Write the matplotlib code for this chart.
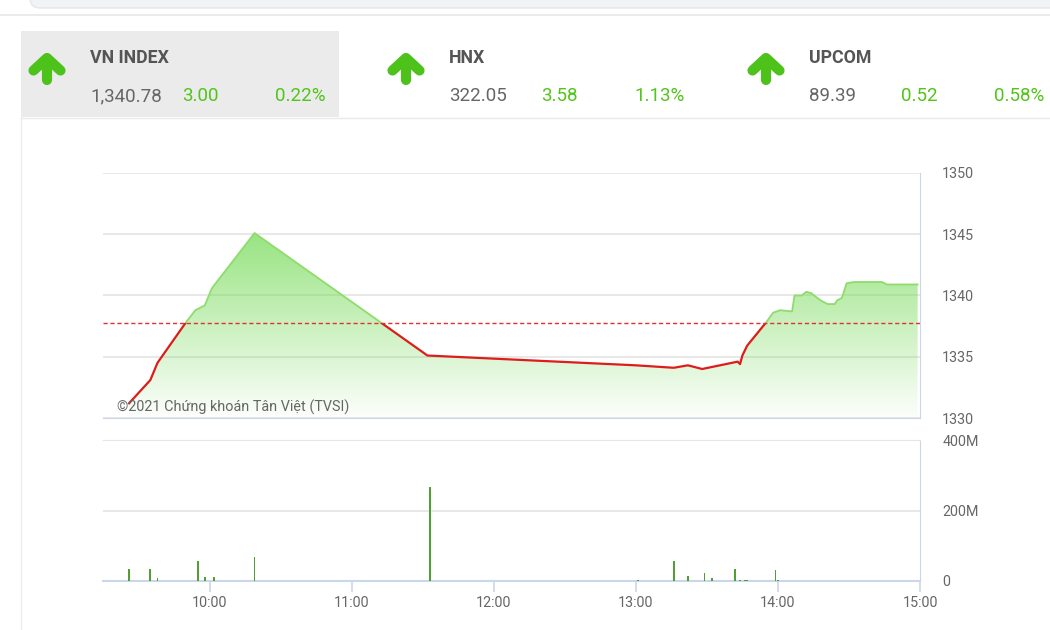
import matplotlib.pyplot as plt
import numpy as np
from matplotlib.patches import Rectangle, FancyBboxPatch, Polygon

plt.rcParams['font.family'] = ['Roboto', 'DejaVu Sans']

# header panels
index_names = ["VN INDEX", "HNX", "UPCOM"]
index_values = ["1,340.78", "322.05", "89.39"]
index_changes = ["3.00", "3.58", "0.52"]
index_pcts = ["0.22%", "1.13%", "0.58%"]

# intraday VN-Index
price_times = ["09:26", "09:35", "09:38", "09:50", "09:54", "09:58", "10:01", "10:19",
               "11:32", "13:00", "13:16", "13:22", "13:28", "13:43", "13:44", "13:45",
               "13:47", "13:55", "13:58", "14:01", "14:06", "14:07", "14:10", "14:12",
               "14:14", "14:18", "14:21", "14:24", "14:25", "14:27", "14:29", "14:32",
               "14:44", "14:46", "14:59"]
price_values = [1331.2, 1333.1, 1334.5, 1337.8, 1338.8, 1339.2, 1340.6, 1345.1,
                1335.1, 1334.3, 1334.1, 1334.3, 1334.0, 1334.6, 1334.4, 1335.1,
                1335.9, 1337.8, 1338.6, 1338.8, 1338.7, 1340.0, 1340.0, 1340.3,
                1340.2, 1339.6, 1339.3, 1339.3, 1339.6, 1339.8, 1341.0, 1341.1,
                1341.1, 1340.9, 1340.9]

# matched volume, millions
vol_times = ["09:26", "09:35", "09:38", "09:55", "09:58", "10:02", "10:19", "11:33",
             "13:01", "13:16", "13:22", "13:29", "13:32", "13:42", "13:44", "13:46",
             "13:47", "13:59", "14:00", "14:16", "14:46"]
vol_values = [33, 33, 8, 57, 12, 12, 68, 266, 2, 57, 15, 22, 8, 34, 3, 3, 4, 30, 2, 1, 1]

price_ticks = [1330, 1335, 1340, 1345, 1350]
vol_ticks = [0, 200, 400]
vol_labels = ["0", "200M", "400M"]
hour_ticks = [10, 11, 12, 13, 14, 15]
hour_labels = ["10:00", "11:00", "12:00", "13:00", "14:00", "15:00"]


def to_hours(s):
    h, m = s.split(":")
    return int(h) + int(m) / 60


GREEN_TXT = '#52c41a'
GREY_TXT = '#666666'
BORDER = '#ccd6eb'
GRID = '#e6e6e6'

fig = plt.figure(figsize=(10.5, 6.3), dpi=100)

# overlay in pixel coords for the page furniture
bg = fig.add_axes([0, 0, 1, 1], zorder=-1)
bg.set_xlim(0, 1050)
bg.set_ylim(630, 0)
bg.axis('off')
bg.add_patch(FancyBboxPatch((30, -30), 1040, 38, boxstyle="round,pad=0,rounding_size=10",
                            facecolor='#f1f3f5', edgecolor='#e4e6e9', lw=1))
bg.plot([0, 1050], [15, 15], color='#e8e8e8', lw=1.2)
bg.add_patch(Rectangle((21, 31), 318, 86, facecolor='#ebebeb', edgecolor='none'))
bg.plot([21, 1050], [117.5, 117.5], color='#e9e9e9', lw=1)
bg.plot([21, 21], [117, 630], color='#ececec', lw=1)

for i, x0 in enumerate([47, 406, 766]):
    bg.plot([x0, x0], [80, 59], color='#4cc21a', lw=7.3, solid_capstyle='round')
    bg.plot([x0 - 13.5, x0, x0 + 13.5], [70.5, 58, 70.5], color='#4cc21a', lw=7.3,
            solid_capstyle='round', solid_joinstyle='round')
    tx = x0 + 43
    bg.text(tx, 58, index_names[i], fontsize=12.8, fontweight='bold', color='#555555',
            ha='left', va='center')
    bg.text(tx, 96, index_values[i], fontsize=13.5, color=GREY_TXT, ha='left', va='center')
    bg.text(tx + 92, 96, index_changes[i], fontsize=13.5, color=GREEN_TXT, ha='left', va='center')
    bg.text(tx + 185, 96, index_pcts[i], fontsize=13.5, color=GREEN_TXT, ha='left', va='center')

# price pane
ax = fig.add_axes([103 / 1050, 1 - 418 / 630, 817 / 1050, 245 / 630])
t = np.array([to_hours(s) for s in price_times])
p = np.array(price_values)
ref = float(index_values[0].replace(",", "")) - float(index_changes[0])
x_min, x_max = 9.25, 15.0
y_min, y_max = 1330, 1350
ax.set_xlim(x_min, x_max)
ax.set_ylim(y_min, y_max)

poly = ax.fill_between(t, p, y_min, facecolor='none', edgecolor='none')
clip = Polygon(poly.get_paths()[0].vertices, transform=ax.transData,
               facecolor='none', edgecolor='none')
ax.add_patch(clip)
grad = np.zeros((256, 1, 4))
grad[:, 0, 0] = 0.47
grad[:, 0, 1] = 0.86
grad[:, 0, 2] = 0.35
grad[:, 0, 3] = np.linspace(1.0, 0.02, 256)
im = ax.imshow(grad, extent=[x_min, x_max, y_min, y_max], aspect='auto',
               origin='upper', zorder=1)
im.set_clip_path(clip)

green_line, = ax.plot(t, p, color='#8edc6c', lw=1.3, zorder=3)
green_line.set_clip_path(Rectangle((x_min, ref), x_max - x_min, 50, transform=ax.transData))
red_line, = ax.plot(t, p, color='#dd1c1c', lw=1.6, zorder=3)
red_line.set_clip_path(Rectangle((x_min, y_min - 10), x_max - x_min, ref - y_min + 10,
                                 transform=ax.transData))
ax.axhline(ref, color='#e53030', lw=1, dashes=(3, 2), zorder=4)

ax.set_yticks(price_ticks)
ax.yaxis.tick_right()
ax.tick_params(axis='y', length=0, pad=16, labelsize=10.3, labelcolor=GREY_TXT)
ax.set_xticks([])
ax.grid(axis='y', color=GRID, lw=1.3, zorder=0)
ax.set_axisbelow(True)
for s in ['left', 'top']:
    ax.spines[s].set_visible(False)
ax.spines['right'].set_color(BORDER)
ax.spines['bottom'].set_color(BORDER)
ax.text(0.017, 0.045, "©2021 Chứng khoán Tân Việt (TVSI)", transform=ax.transAxes,
        fontsize=10.4, color=GREY_TXT, ha='left', va='center', zorder=5)

# volume pane
axv = fig.add_axes([103 / 1050, 1 - 581 / 630, 817 / 1050, 141 / 630])
axv.bar([to_hours(s) for s in vol_times], vol_values, width=0.013, color='#4f9f33', zorder=3)
axv.set_xlim(x_min, x_max)
axv.set_ylim(0, 400)
axv.set_yticks(vol_ticks)
axv.set_yticklabels(vol_labels)
axv.yaxis.tick_right()
axv.tick_params(axis='y', length=0, pad=16, labelsize=10.3, labelcolor=GREY_TXT)
axv.set_xticks(hour_ticks)
axv.set_xticklabels(hour_labels)
axv.tick_params(axis='x', length=8, width=1.2, color=BORDER, pad=3, labelsize=10.3,
                labelcolor=GREY_TXT)
axv.grid(axis='y', color=GRID, lw=1.3, zorder=0)
axv.set_axisbelow(True)
axv.spines['left'].set_visible(False)
axv.spines['top'].set_color(GRID)
axv.spines['right'].set_color(BORDER)
axv.spines['bottom'].set_color(BORDER)
axv.spines['bottom'].set_linewidth(1.5)

fig.savefig('out.png', dpi=100)
